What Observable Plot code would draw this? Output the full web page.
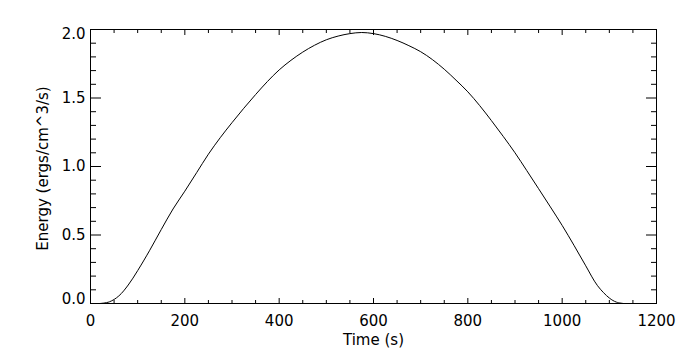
<!DOCTYPE html>
<html>
<head>
<meta charset="utf-8">
<script src="https://cdn.jsdelivr.net/npm/d3@7"></script>
<script src="https://cdn.jsdelivr.net/npm/@observablehq/plot@0.6"></script>
<style>
  html, body { margin: 0; padding: 0; background: #ffffff; }
  #chart { width: 683px; height: 364px; }
</style>
</head>
<body>
<div id="chart"></div>
<script>
// Time (s)
const time = [20, 40, 60, 80, 100, 125, 150, 175, 200, 225, 250, 275, 300, 325, 350, 375, 400, 425, 450, 475, 500, 525, 550, 575, 600, 625, 650, 675, 700, 725, 750, 775, 800, 825, 850, 875, 900, 925, 950, 975, 1000, 1025, 1050, 1075, 1100, 1115, 1130];
// Energy (ergs/cm^3/s)
const energy = [0.0, 0.012, 0.055, 0.135, 0.24, 0.385, 0.54, 0.69, 0.82, 0.955, 1.09, 1.21, 1.32, 1.425, 1.525, 1.62, 1.705, 1.775, 1.835, 1.885, 1.925, 1.952, 1.97, 1.978, 1.97, 1.95, 1.92, 1.882, 1.838, 1.78, 1.71, 1.63, 1.545, 1.445, 1.335, 1.22, 1.10, 0.97, 0.838, 0.705, 0.57, 0.425, 0.275, 0.13, 0.04, 0.01, 0.0];

const xMajorTicks = [0, 200, 400, 600, 800, 1000, 1200];
const xMinorTicks = [50, 100, 150, 250, 300, 350, 450, 500, 550, 650, 700, 750, 850, 900, 950, 1050, 1100, 1150];
const yMajorTicks = [0, 0.5, 1.0, 1.5, 2.0];
const yMinorTicks = [0.1, 0.2, 0.3, 0.4, 0.6, 0.7, 0.8, 0.9, 1.1, 1.2, 1.3, 1.4, 1.6, 1.7, 1.8, 1.9];
const yMidLabels = [0.5, 1.0, 1.5];
const yTopLabel = [2.0];
const yBottomLabel = [0.0];
const xTitle = "Time (s)";
const yTitle = "Energy (ergs/cm^3/s)";

const data = time.map((t, i) => ({t, e: energy[i]}));
const fmtY = d3.format(".1f");
const fmtX = d3.format("d");

const chart = Plot.plot({
  width: 683,
  height: 364,
  marginLeft: 90,
  marginRight: 27,
  marginTop: 29,
  marginBottom: 61,
  style: {fontFamily: "DejaVu Sans", fontSize: "15px", color: "#000", background: "#fff"},
  x: {domain: [0, 1200], axis: null},
  y: {domain: [0, 2], axis: null},
  marks: [
    // minor ticks (inward)
    Plot.axisX(xMinorTicks, {anchor: "bottom", tickSize: -3, text: null, label: null}),
    Plot.axisX(xMinorTicks, {anchor: "top", tickSize: -3, text: null, label: null}),
    Plot.axisY(yMinorTicks, {anchor: "left", tickSize: -6, text: null, label: null}),
    Plot.axisY(yMinorTicks, {anchor: "right", tickSize: -6, text: null, label: null}),
    // major ticks (inward)
    Plot.axisX(xMajorTicks, {anchor: "bottom", tickSize: -5, text: null, label: null}),
    Plot.axisX(xMajorTicks, {anchor: "top", tickSize: -5, text: null, label: null}),
    Plot.axisY(yMajorTicks, {anchor: "left", tickSize: -11, text: null, label: null}),
    Plot.axisY(yMajorTicks, {anchor: "right", tickSize: -11, text: null, label: null}),
    // tick labels
    Plot.axisX(xMajorTicks, {anchor: "bottom", tickSize: 0, tickPadding: 12, tickFormat: fmtX, label: null}),
    Plot.axisY(yMidLabels, {anchor: "left", tickSize: 0, tickPadding: 5, tickFormat: fmtY, label: null}),
    Plot.axisY(yTopLabel, {anchor: "left", tickSize: 0, tickPadding: 5, tickFormat: fmtY, label: null, dy: 5}),
    Plot.axisY(yBottomLabel, {anchor: "left", tickSize: 0, tickPadding: 5, tickFormat: fmtY, label: null, dy: -4}),
    Plot.frame({stroke: "#000", strokeWidth: 1}),
    Plot.line(data, {x: "t", y: "e", stroke: "#000", strokeWidth: 1, curve: "catmull-rom"}),
    // axis titles
    Plot.text([xTitle], {text: d => d, frameAnchor: "bottom", dy: 41, fill: "#000"}),
    Plot.text([yTitle], {text: d => d, frameAnchor: "left", textAnchor: "middle", dx: -47, dy: 2, rotate: -90, fill: "#000"})
  ]
});
document.getElementById("chart").appendChild(chart);
</script>
</body>
</html>
